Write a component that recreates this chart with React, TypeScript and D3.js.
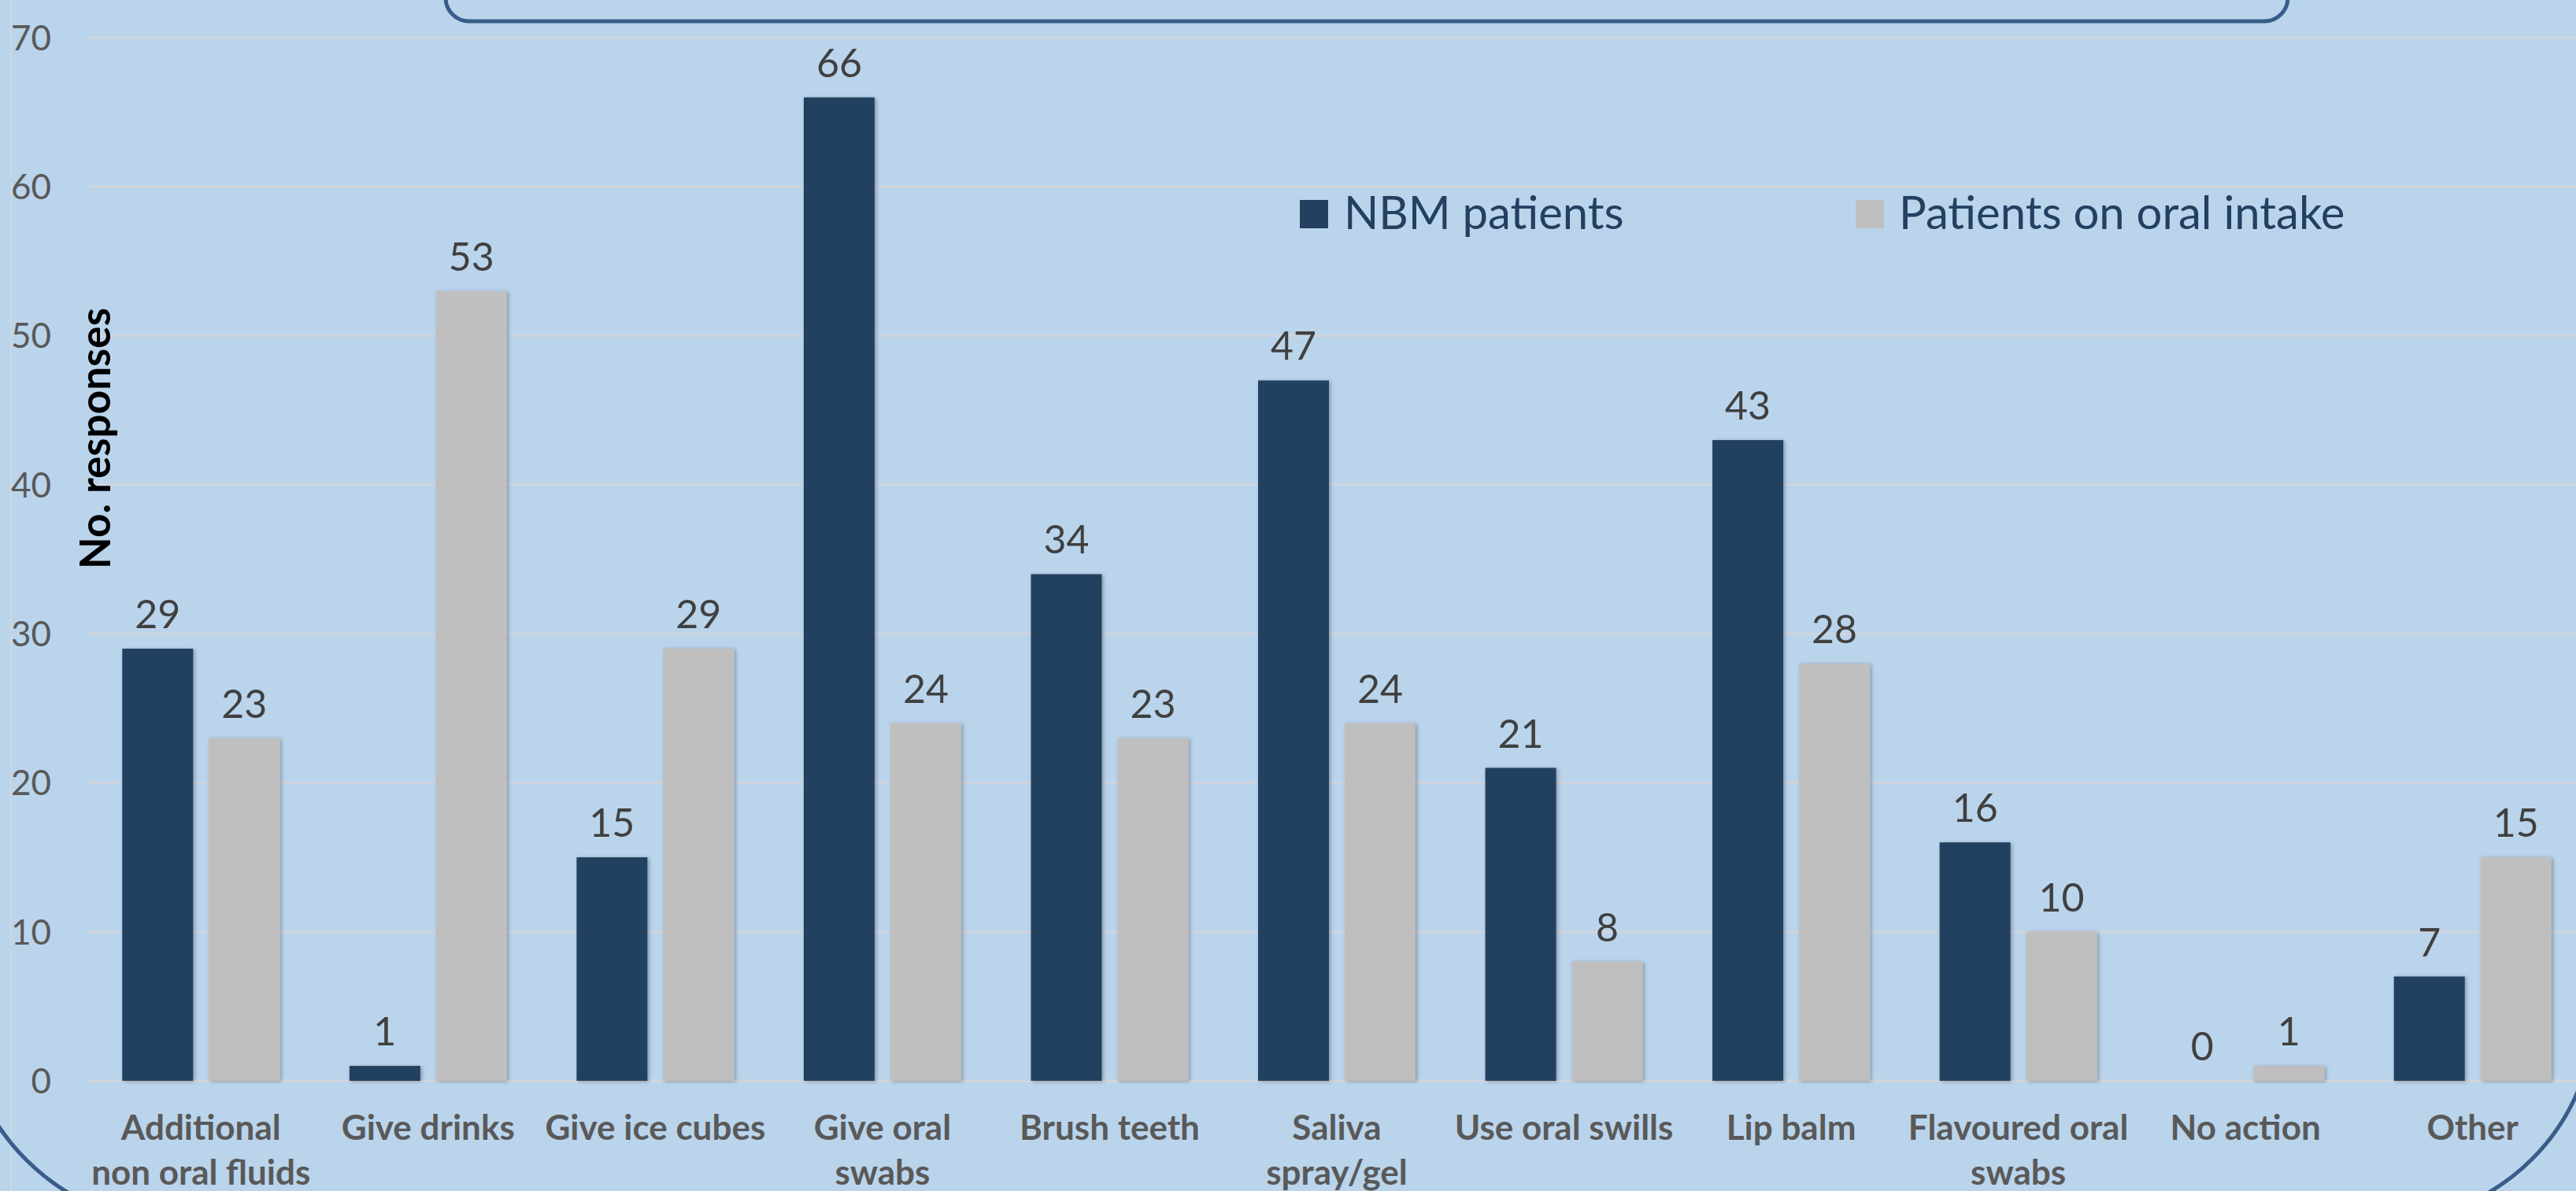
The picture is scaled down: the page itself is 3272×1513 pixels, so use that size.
import React from "react";
import * as d3 from "d3";

const categories = [
  ["Additional", "non oral fluids"],
  ["Give drinks"],
  ["Give ice cubes"],
  ["Give oral", "swabs"],
  ["Brush teeth"],
  ["Saliva", "spray/gel"],
  ["Use oral swills"],
  ["Lip balm"],
  ["Flavoured oral", "swabs"],
  ["No action"],
  ["Other"],
];
const seriesNames = ["NBM patients", "Patients on oral intake"];
const nbmValues = [29, 1, 15, 66, 34, 47, 21, 43, 16, 0, 7];
const oralValues = [23, 53, 29, 24, 23, 24, 8, 28, 10, 1, 15];
const yTicks = [0, 10, 20, 30, 40, 50, 60, 70];
const yTitle = "No. responses";

const W = 3272;
const H = 1513;
const BG = "#BAD4EC";
const DARK = "#243F60";
const GRAY = "#BFBFBF";
const FRAME = "#385D8A";
const FONT = "Lato, 'Open Sans', sans-serif";

export default function App() {
  React.useEffect(() => {
    document.body.style.margin = "0";
    document.body.style.background = BG;
  }, []);

  const keys = categories.map((c) => c.join(" "));
  const x0 = d3.scaleBand<string>().domain(keys).range([111, 3285]).paddingInner(0).paddingOuter(0);
  const x1 = d3
    .scaleBand<number>()
    .domain([0, 1])
    .range([0, x0.bandwidth()])
    .paddingInner(0.1818)
    .paddingOuter(0.4027);
  const y = d3.scaleLinear().domain([0, 70]).range([1373, 48]);
  const series = [nbmValues, oralValues];
  const colors = [DARK, GRAY];

  const framePath = d3.path();
  framePath.moveTo(-48, -10);
  framePath.lineTo(-48, 1277);
  framePath.arcTo(-48, 1555, 230, 1555, 278);
  framePath.lineTo(3024, 1552);
  framePath.arcTo(3296, 1552, 3296, 1280, 272);
  framePath.lineTo(3296, -10);

  return (
    <svg width={W} height={H} style={{ display: "block", position: "absolute", left: 0, top: 0 }} fontFamily={FONT}>
      <defs>
        <filter id="sh" x="-20%" y="-20%" width="140%" height="140%">
          <feDropShadow dx="2" dy="1" stdDeviation="2.5" floodColor="#000" floodOpacity="0.3" />
        </filter>
      </defs>
      <rect x={0} y={0} width={W} height={H} fill={BG} />
      {/* chart area edge */}
      <line x1={14} x2={14} y1={0} y2={H} stroke="#D0D6DE" strokeWidth={2} />
      {/* gridlines */}
      {yTicks.map((t) => (
        <line key={t} x1={111} x2={W} y1={y(t)} y2={y(t)} stroke="#D2D5DA" strokeWidth={t === 0 ? 3 : 2.5} />
      ))}
      {/* tick labels */}
      {yTicks.map((t) => (
        <text key={"t" + t} x={65} y={y(t)} dy="0.36em" textAnchor="end" fontSize={44} fill="#595959">
          {t}
        </text>
      ))}
      {/* y title */}
      <text transform={`translate(140,557) rotate(-90)`} textAnchor="middle" fontSize={53} fontWeight={700} fill="#000">
        {yTitle}
      </text>
      {/* bars */}
      {keys.map((k, i) => (
        <g key={k} transform={`translate(${x0(k)},0)`}>
          {series.map((vals, s) => (
            <rect
              key={s}
              x={x1(s)}
              y={y(vals[i])}
              width={x1.bandwidth()}
              height={y(0) - y(vals[i])}
              fill={colors[s]}
              filter="url(#sh)"
            />
          ))}
          {series.map((vals, s) => (
            <text
              key={"l" + s}
              x={(x1(s) as number) + x1.bandwidth() / 2}
              y={y(vals[i]) - 26}
              textAnchor="middle"
              fontSize={50}
              fill="#404040"
            >
              {vals[i]}
            </text>
          ))}
          {categories[i].map((line, li) => (
            <text
              key={"c" + li}
              x={x0.bandwidth() / 2}
              y={1448 + li * 57}
              textAnchor="middle"
              fontSize={44}
              fontWeight={700}
              fill="#595959"
            >
              {line}
            </text>
          ))}
        </g>
      ))}
      {/* legend */}
      <rect x={1651} y={254} width={36} height={36} fill={DARK} />
      <text x={1707} y={291} fontSize={58} fill={DARK}>
        {seriesNames[0]}
      </text>
      <rect x={2357} y={254} width={36} height={36} fill={GRAY} />
      <text x={2412} y={291} fontSize={58} fill={DARK}>
        {seriesNames[1]}
      </text>
      {/* decorative frames */}
      <rect x={566} y={-300} width={2340} height={327} rx={30} ry={30} fill="none" stroke={FRAME} strokeWidth={5} />
      <path d={framePath.toString()} fill="none" stroke={FRAME} strokeWidth={5} />
    </svg>
  );
}
